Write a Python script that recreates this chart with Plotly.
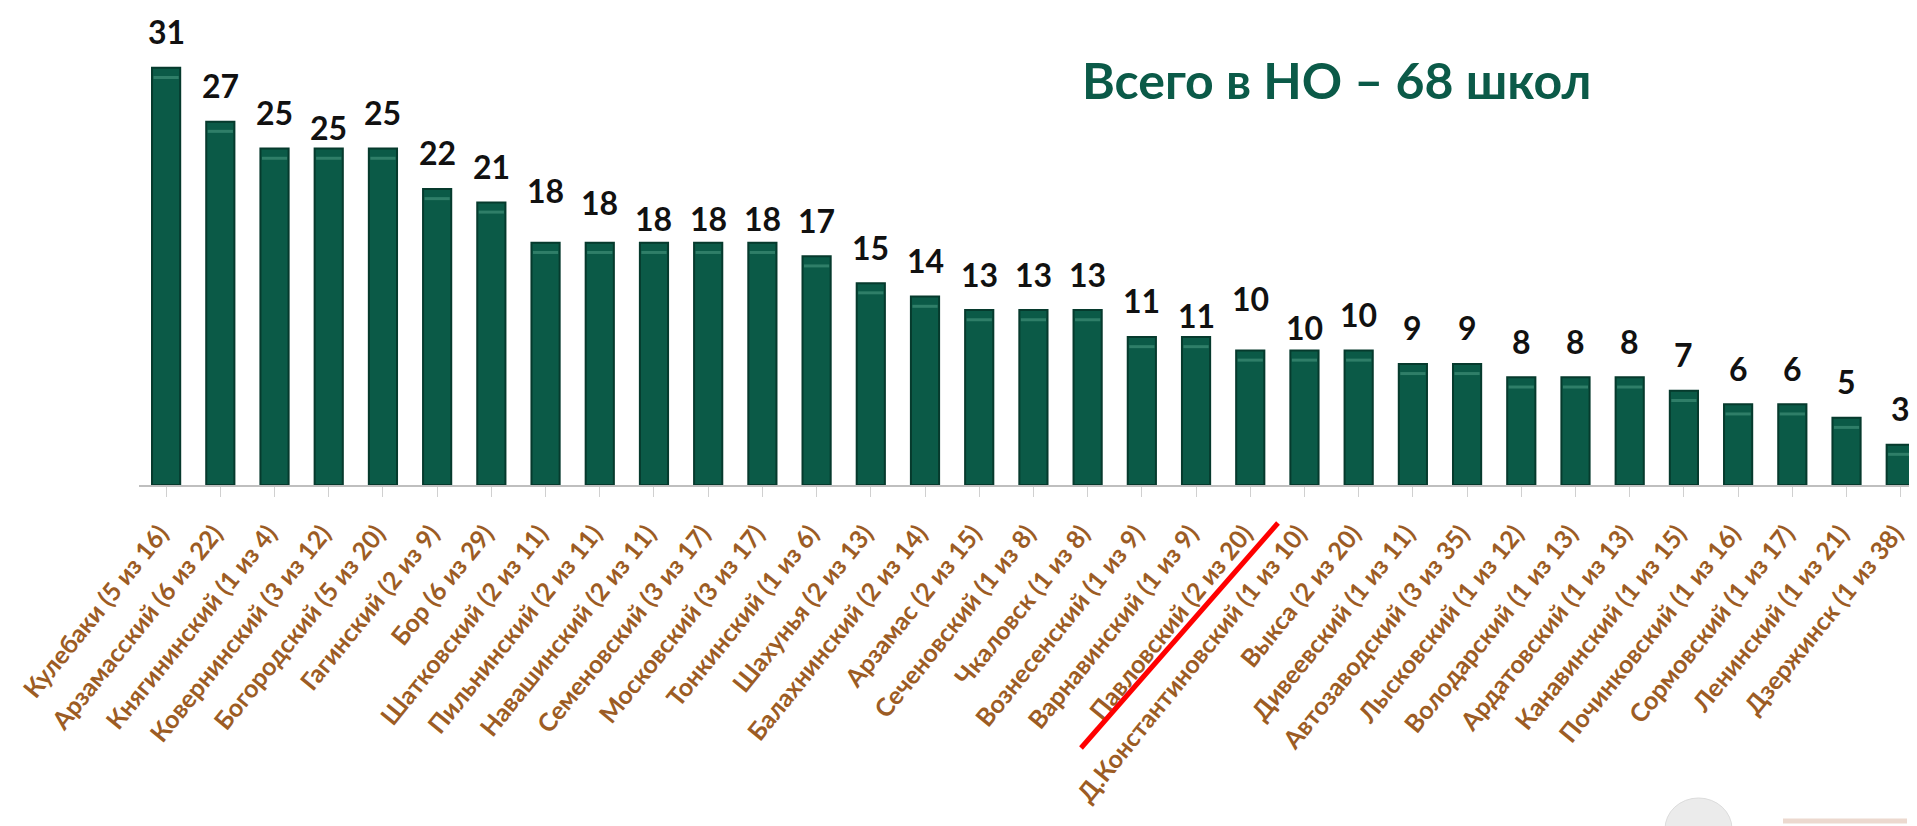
import plotly.graph_objects as go

categories = [
    "Кулебаки (5 из 16)", "Арзамасский (6 из 22)", "Княгининский (1 из 4)",
    "Ковернинский (3 из 12)", "Богородский (5 из 20)", "Гагинский (2 из 9)",
    "Бор (6 из 29)", "Шатковский (2 из 11)", "Пильнинский (2 из 11)",
    "Навашинский (2 из 11)", "Семеновский (3 из 17)", "Московский (3 из 17)",
    "Тонкинский (1 из 6)", "Шахунья (2 из 13)", "Балахнинский (2 из 14)",
    "Арзамас (2 из 15)", "Сеченовский (1 из 8)", "Чкаловск (1 из 8)",
    "Вознесенский (1 из 9)", "Варнавинский (1 из 9)", "Павловский (2 из 20)",
    "Д.Константиновский (1 из 10)", "Выкса (2 из 20)", "Дивеевский (1 из 11)",
    "Автозаводский (3 из 35)", "Лысковский (1 из 12)", "Володарский (1 из 13)",
    "Ардатовский (1 из 13)", "Канавинский (1 из 15)", "Починковский (1 из 16)",
    "Сормовский (1 из 17)", "Ленинский (1 из 21)", "Дзержинск (1 из 38)",
]
values = [31, 27, 25, 25, 25, 22, 21, 18, 18, 18, 18, 18, 17, 15, 14, 13, 13, 13,
          11, 11, 10, 10, 10, 9, 9, 8, 8, 8, 7, 6, 6, 5, 3]
title_text = "Всего в НО – 68 школ"

# extra vertical offsets (px) of the value labels, as placed in the original slide
label_extra = [0, 0, 0, -15, 0, 0, 0, 16, 4, -12, -12, -12, 0, 0, 0, 0, 0, 0,
               0, -15, 16, -13, 0, 0, 0, 0, 0, 0, 0, 0, 0, 0, 0]

FONT = "Lato, 'Open Sans', sans-serif"
GREEN = "#0b5a47"
BROWN = "#9c5c24"

# page body has an 8px margin: figure is shifted by 8px, compensate
W, H = 1909, 818
PL, PR, PT, PB = 139, 1917, 14, 485   # plot area in page pixels
def px(x):
    return (x - PL) / (PR - PL)
def py(y):
    return (PB - y) / (PB - PT)

fig = go.Figure()
fig.add_trace(go.Bar(
    x=list(range(len(categories))), y=values, width=0.52,
    marker=dict(color=GREEN, line=dict(color="#063a2d", width=2)),
    hoverinfo="skip",
))
# soft highlight near the top of each bar
fig.add_trace(go.Scatter(
    x=list(range(len(categories))), y=[v - 0.72 for v in values], mode="markers",
    marker=dict(symbol="line-ew", size=18, line=dict(color="rgba(90,170,145,0.45)", width=3)),
    hoverinfo="skip",
))

for i, (v, dy) in enumerate(zip(values, label_extra)):
    fig.add_annotation(x=i, y=v, text=f"<b>{v}</b>", showarrow=False,
                       yanchor="middle", yshift=36 + dy,
                       font=dict(family=FONT, size=32, color="#111111"))

fig.add_annotation(xref="paper", yref="paper", x=px(1336), y=py(80),
                   text=f"<b>{title_text}</b>", showarrow=False,
                   xanchor="center", yanchor="middle",
                   font=dict(family=FONT, size=50, color="#0b5a48"))

# red strike line across the label
fig.add_shape(type="line", xref="paper", yref="paper",
              x0=px(1081), y0=py(748), x1=px(1278), y1=py(523),
              line=dict(color="#ff0000", width=5))

# faint emblem and footer line bottom right
fig.add_shape(type="circle", xref="paper", yref="paper",
              x0=px(1665), y0=py(798), x1=px(1732), y1=py(860),
              fillcolor="#ebebeb", line=dict(color="#dcdcdc", width=1), layer="below")
fig.add_shape(type="line", xref="paper", yref="paper",
              x0=px(1783), y0=py(821), x1=px(1907), y1=py(821),
              line=dict(color="#ecd9cf", width=5))

fig.update_layout(
    width=W, height=H,
    margin=dict(l=PL - 8, r=0, t=PT - 8, b=(H + 8) - PB),
    paper_bgcolor="white", plot_bgcolor="white",
    showlegend=False,
    xaxis=dict(
        range=[-0.5, 32.3],
        tickmode="array", tickvals=list(range(len(categories))),
        ticktext=[f"<b>{c}</b>" for c in categories],
        tickangle=-51,
        tickfont=dict(family=FONT, size=25, color=BROWN),
        ticklabelshift=-6, ticklabelstandoff=12,
        showline=True, linecolor="#bfbfbf", linewidth=1.5,
        ticks="outside", tickson="boundaries", ticklen=10, tickcolor="#d0d0d0",
        showgrid=False, zeroline=False,
    ),
    yaxis=dict(range=[0, 35], visible=False, showgrid=False, zeroline=False),
)

fig.write_html("out.html")
